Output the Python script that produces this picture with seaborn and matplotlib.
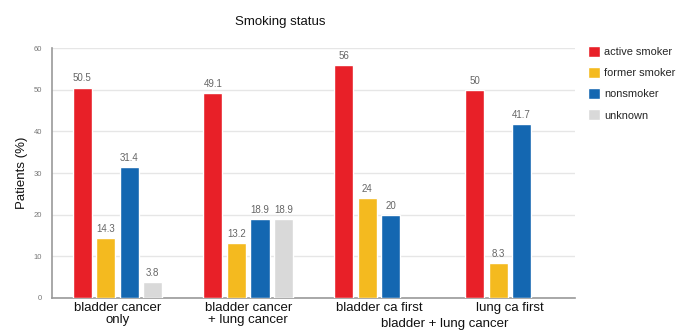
import matplotlib
matplotlib.use("Agg")
import matplotlib.pyplot as plt
import seaborn as sns
import pandas as pd

groups = ["bladder cancer\nonly", "bladder cancer\n+ lung cancer", "bladder ca first", "lung ca first"]
statuses = ["active smoker", "former smoker", "nonsmoker", "unknown"]
active = [50.5, 49.1, 56, 50]
former = [14.3, 13.2, 24, 8.3]
nonsmoker = [31.4, 18.9, 20, 41.7]
unknown = [3.8, 18.9, None, None]
yticks = [0, 10, 20, 30, 40, 50, 60]

palette = ["#E82028", "#F4BA1F", "#1467B1", "#D9D9D9"]

rows = []
for status, values in zip(statuses, [active, former, nonsmoker, unknown]):
    for g, v in zip(groups, values):
        if v is not None:
            rows.append({"group": g, "status": status, "value": v})
df = pd.DataFrame(rows)

sns.set_style("white")
plt.rcParams["font.family"] = ["Liberation Sans", "DejaVu Sans"]

fig = plt.figure(figsize=(6.76, 3.31), dpi=100)
ax = fig.add_axes([0.077, 0.0997, 0.774, 0.755])

sns.barplot(data=df, x="group", y="value", hue="status", order=groups,
            hue_order=statuses, palette=palette, width=0.72, gap=0.19,
            saturation=1, ax=ax, errorbar=None, zorder=3)

for container in ax.containers:
    ax.bar_label(container, fmt="%g", padding=3, fontsize=7, color="#666666")

ax.set_ylim(0, 60)
ax.set_xlim(-0.5, 3.5)
ax.set_yticks(yticks)
ax.set_yticklabels([str(t) for t in yticks], fontsize=5.5, color="#777777")
ax.tick_params(axis="y", length=0, pad=7)
ax.tick_params(axis="x", length=0, pad=3, labelsize=9.5, labelcolor="#111111")
for lbl in ax.get_xticklabels():
    lbl.set_linespacing(1.0)
ax.yaxis.grid(True, color="#E6E6E6", linewidth=1, zorder=0)
ax.set_axisbelow(True)
for side in ["top", "right"]:
    ax.spines[side].set_visible(False)
ax.spines["left"].set_color("#999999")
ax.spines["bottom"].set_color("#999999")
ax.spines["left"].set_linewidth(1.2)
ax.spines["bottom"].set_linewidth(1.2)

ax.set_xlabel("")
ax.set_ylabel("Patients (%)", fontsize=9.5, color="#111111", labelpad=4)
fig.text(0.415, 0.935, "Smoking status", fontsize=9.5, color="#111111", ha="center", va="center")
fig.text(0.6575, 0.02, "bladder + lung cancer", fontsize=9.5, color="#111111", ha="center", va="center")

ax.legend(loc="upper left", bbox_to_anchor=(1.015, 1.025), frameon=False, fontsize=7.9,
          handlelength=1.1, handleheight=1.15, handletextpad=0.4, labelspacing=0.9,
          borderaxespad=0)

fig.savefig("out.png", dpi=100)
